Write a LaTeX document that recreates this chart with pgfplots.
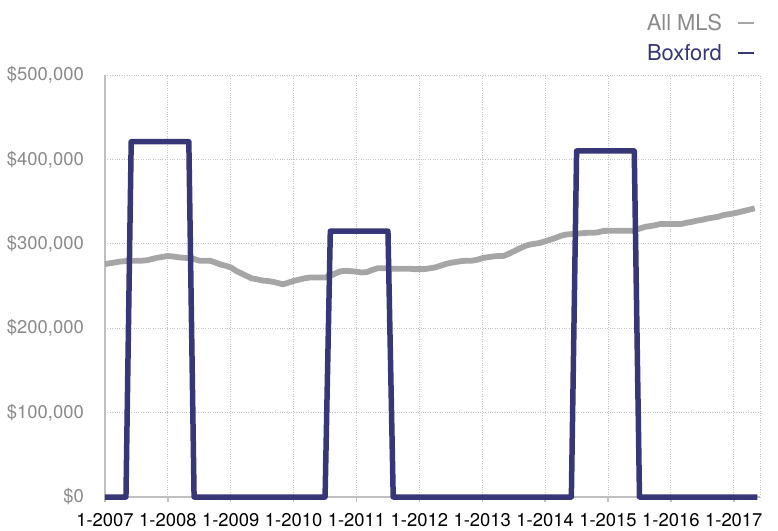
\documentclass[border=0pt]{standalone}
\usepackage{pgfplots}
\pgfplotsset{compat=1.18}
\usepackage{fontspec}
\setmainfont{TeX Gyre Heros}
\definecolor{navy}{RGB}{55,54,118}
\definecolor{mlsgray}{RGB}{166,166,166}
\definecolor{axgray}{RGB}{192,192,192}
\definecolor{gridgray}{RGB}{195,195,195}
\definecolor{labgray}{RGB}{138,138,138}
\begin{document}
\begin{tikzpicture}
\begin{axis}[
  scale only axis, width=655bp, height=422bp,
  xmin=0, xmax=125, ymin=0, ymax=500000,
  scaled y ticks=false,
  axis x line*=bottom, axis y line*=left,
  axis line style={axgray, line width=2.2bp},
  clip=false,
  xtick={0,12,...,120},
  xticklabels={1-2007,1-2008,1-2009,1-2010,1-2011,1-2012,1-2013,1-2014,1-2015,1-2016,1-2017},
  ytick={0,100000,200000,300000,400000,500000},
  yticklabels={\$0,{\$100,000},{\$200,000},{\$300,000},{\$400,000},{\$500,000}},
  extra x ticks={125}, extra x tick labels={},
  extra x tick style={grid=major, major tick length=0pt},
  grid=major,
  major grid style={gridgray, dotted, line width=0.9bp},
  tick align=outside,
  x tick style={axgray, line width=1.4bp},
  major tick length=5bp,
  y tick style={draw=none},
  x tick label style={font=\fontsize{18.5}{20}\selectfont, text=black, inner sep=0pt, yshift=-11bp},
  y tick label style={font=\fontsize{18.5}{20}\selectfont, text=labgray, inner sep=0pt, xshift=-16bp},
  legend style={draw=none, fill=none, at={(rel axis cs:0.997,1.022)}, anchor=south east,
    legend cell align=right, font=\fontsize{22}{24}\selectfont, row sep=8bp, column sep=13bp},
  legend plot pos=right,
  legend image code/.code={\draw[line width=2bp] (0bp,0bp) -- (16bp,0bp);},
]
\addplot[mlsgray, line width=5.8bp, line join=round] coordinates {
(0,276000)(1,277000)(2,278000)(3,279000)(4,279500)(5,280000)(6,280000)(7,280000)
(8,280500)(9,282000)(10,283500)(11,284500)(12,285500)(13,285000)(14,284000)(15,283500)
(16,283000)(17,282000)(18,280000)(19,280000)(20,280000)(21,278000)(22,275500)(23,274000)
(24,272000)(25,268000)(26,265000)(27,262000)(28,259000)(29,258000)(30,256500)(31,256000)
(32,255000)(33,253500)(34,252000)(35,254000)(36,256000)(37,257500)(38,259000)(39,260000)
(40,260000)(41,260000)(42,260000)(43,262000)(44,265000)(45,267500)(46,268000)(47,267500)
(48,267000)(49,266000)(50,266500)(51,269000)(52,271000)(53,271000)(54,271000)(55,270500)
(56,270500)(57,270500)(58,270500)(59,270000)(60,270000)(61,270000)(62,271000)(63,272000)
(64,274000)(65,276000)(66,277500)(67,278500)(68,279500)(69,280000)(70,280000)(71,281000)
(72,283000)(73,284000)(74,285000)(75,285500)(76,285500)(77,288000)(78,291000)(79,294000)
(80,297000)(81,299000)(82,300000)(83,301000)(84,303000)(85,305000)(86,307000)(87,309500)
(88,311000)(89,311500)(90,312000)(91,312500)(92,313000)(93,313000)(94,313500)(95,315000)
(96,315500)(97,315500)(98,315500)(99,315500)(100,315500)(101,315500)(102,318000)(103,320000)
(104,321000)(105,322000)(106,323500)(107,323500)(108,323500)(109,323500)(110,323500)(111,325000)
(112,326000)(113,327500)(114,328500)(115,330000)(116,331000)(117,332000)(118,334000)(119,335000)
(120,336000)(121,337500)(122,339000)(123,340500)(124,342000)
};
\addlegendentry[text=labgray]{All MLS}
\addplot[navy, line width=5.5bp, line join=round] coordinates {
(0,0)(4,0)(5,421000)(16,421000)(17,0)(42,0)(43,315000)(54,315000)(55,0)
(89,0)(90,410000)(101,410000)(102,0)(124.5,0)
};
\addlegendentry[text=navy]{Boxford}
\end{axis}
\pgfresetboundingbox
\path (-105bp,-34bp) rectangle (673bp,497bp);
\end{tikzpicture}
\end{document}
